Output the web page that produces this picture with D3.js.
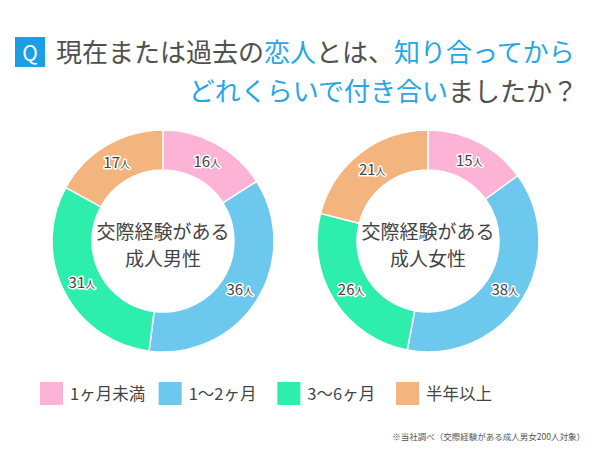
<!DOCTYPE html>
<html>
<head>
<meta charset="utf-8">
<script src="https://cdn.jsdelivr.net/npm/d3@7"></script>
<style>
  body { margin:0; background:#fff; }
  svg text { font-family:"Noto Sans CJK JP", "Noto Sans", sans-serif; }
</style>
</head>
<body>
<div id="chart"></div>
<script>
const categories = ["1ヶ月未満", "1〜2ヶ月", "3〜6ヶ月", "半年以上"]
const maleValues = [16, 36, 31, 17]
const femaleValues = [15, 38, 26, 21]
const groupLabels = [["交際経験がある", "成人男性"], ["交際経験がある", "成人女性"]]
const colors = ["#fdb3d6", "#6cc8ec", "#2eeeae", "#f4b47e"]

let width = 592, height = 450
let svg = d3.select("#chart").append("svg").attr("width", width).attr("height", height)

// title
svg.append("rect").attr("x", 15).attr("y", 37).attr("width", 30).attr("height", 30).attr("fill", "#1a9fe6")
svg.append("text").attr("x", 30).attr("y", 61).attr("text-anchor", "middle")
  .attr("fill", "#fff").attr("font-size", 21).text("Q")

let gray = "#505050", blue = "#27a6e4"
let t1 = svg.append("text").attr("x", 56).attr("y", 62).attr("font-size", 26).attr("fill", gray)
;[["現在または過去の", gray], ["恋人", blue], ["とは、", gray], ["知り合ってから", blue]]
  .forEach(p => t1.append("tspan").attr("fill", p[1]).text(p[0]))
let t2 = svg.append("text").attr("x", 578).attr("y", 101).attr("font-size", 26).attr("text-anchor", "end")
;[["どれくらいで", blue], ["付き合い", blue], ["ましたか？", gray]]
  .forEach(p => t2.append("tspan").attr("fill", p[1]).text(p[0]))

let color = d3.scaleOrdinal().domain(categories).range(colors)
let pie = d3.pie().sort(null).value(d => d.value)
let outerR = 111, innerR = 71
let arc = d3.arc().innerRadius(innerR).outerRadius(outerR)
let labelArc = d3.arc().innerRadius(91).outerRadius(91)

function donut(values, cx, cy, label){
  let data = categories.map((c, i) => ({ cat: c, value: values[i] }))
  let g = svg.append("g").attr("transform", `translate(${cx},${cy})`)
  let arcs = pie(data)
  g.selectAll("path").data(arcs).enter().append("path")
    .attr("d", arc)
    .attr("fill", d => color(d.data.cat))
    .attr("stroke", "#fff").attr("stroke-width", 1.5)
  let lab = g.selectAll("text.val").data(arcs).enter().append("text")
    .attr("class", "val")
    .attr("transform", d => `translate(${labelArc.centroid(d)})`)
    .attr("text-anchor", "middle").attr("dy", "0.35em")
    .attr("fill", "#444").attr("stroke", "#fff").attr("stroke-width", 3)
    .attr("paint-order", "stroke").attr("stroke-linejoin", "round")
  lab.append("tspan").attr("font-size", 15).text(d => d.data.value)
  lab.append("tspan").attr("font-size", 10).text("人")
  g.append("text").attr("y", -2).attr("text-anchor", "middle").attr("font-size", 19)
    .attr("fill", "#444").text(label[0])
  g.append("text").attr("y", 25).attr("text-anchor", "middle").attr("font-size", 19)
    .attr("fill", "#444").text(label[1])
}
donut(maleValues, 163, 241, groupLabels[0])
donut(femaleValues, 428, 241, groupLabels[1])

// legend
let legendX = d3.scalePoint().domain(categories).range([40, 396])
let lg = svg.selectAll("g.legend").data(categories).enter().append("g")
  .attr("class", "legend")
  .attr("transform", d => `translate(${legendX(d)},382)`)
lg.append("rect").attr("width", 23).attr("height", 23).attr("fill", d => color(d))
lg.append("text").attr("x", 30).attr("y", 18).attr("font-size", 16.5).attr("fill", "#444").text(d => d)

svg.append("text").attr("x", 585).attr("y", 440).attr("text-anchor", "end")
  .attr("font-size", 8.5).attr("fill", "#555").text("※当社調べ（交際経験がある成人男女200人対象）")
</script>
</body>
</html>
